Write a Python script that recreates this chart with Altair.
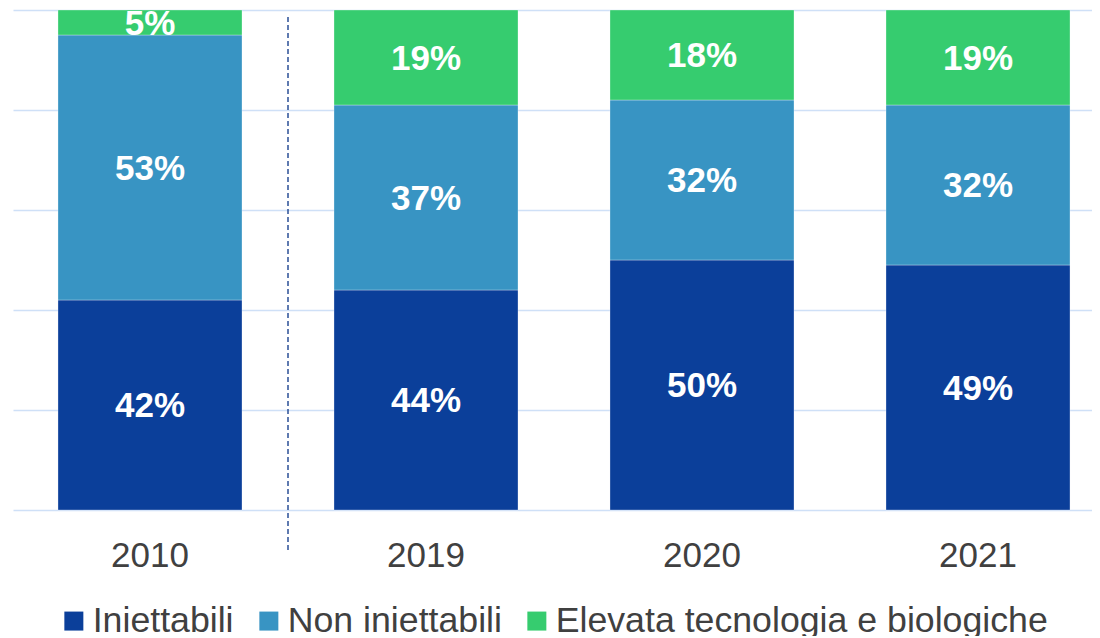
import altair as alt
import pandas as pd

years = ["2010", "2019", "2020", "2021"]
categories = ["Iniettabili", "Non iniettabili", "Elevata tecnologia e biologiche"]
iniettabili = [42, 44, 50, 49]
non_iniettabili = [53, 37, 32, 32]
elevata = [5, 19, 18, 19]
colors = ["#0B3F9A", "#3894C3", "#36CC6F"]

rows = []
for i, y in enumerate(years):
    for k, (cat, vals) in enumerate(zip(categories, [iniettabili, non_iniettabili, elevata])):
        rows.append({"anno": y, "categoria": cat, "valore": vals[i], "ordine": k})
df = pd.DataFrame(rows)

FONT = "Liberation Sans"

xscale = alt.Scale(domain=years, range=[0, 1102], paddingInner=0.3333, paddingOuter=0.163)
yscale = alt.Scale(domain=[0, 100], nice=False)

base = alt.Chart(df)

bars = base.mark_bar(stroke="#FFFFFF", strokeWidth=0.6, strokeOpacity=0.5).encode(
    x=alt.X("anno:N", scale=xscale, sort=years,
            axis=alt.Axis(title=None, labelAngle=0, ticks=False, domain=False,
                          labelFont=FONT, labelFontSize=35, labelColor="#404040",
                          labelPadding=28, grid=False)),
    y=alt.Y("valore:Q", stack="zero", scale=yscale,
            axis=alt.Axis(title=None, labels=False, ticks=False, domain=False,
                          grid=True, gridColor="#CFE0F7", gridWidth=1.5,
                          values=[0, 20, 40, 60, 80, 100])),
    color=alt.Color("categoria:N", scale=alt.Scale(domain=categories, range=colors),
                    legend=alt.Legend(title=None, orient="none", legendX=43, legendY=593,
                                      direction="horizontal", symbolType="square",
                                      symbolSize=361, symbolStrokeWidth=0,
                                      labelFont=FONT, labelFontSize=35.7,
                                      labelColor="#404040", labelOffset=1,
                                      columnPadding=17, padding=0, labelLimit=600)),
    order=alt.Order("ordine:Q"),
)

labels = base.transform_stack(
    stack="valore", groupby=["anno"], as_=["y0", "y1"],
    sort=[alt.SortField("ordine", order="ascending")]
).transform_calculate(
    mid="(datum.y0 + datum.y1) / 2",
    testo="datum.valore + '%'"
).mark_text(font=FONT, fontSize=35, fontWeight="bold", color="#FFFFFF",
            baseline="middle", dy=1).encode(
    x=alt.X("anno:N", scale=xscale, sort=years),
    y=alt.Y("mid:Q", scale=yscale),
    text="testo:N",
)

sep = alt.Chart(pd.DataFrame({"anno": ["2010"]})).mark_rule(
    color="#2A4F96", strokeDash=[5, 3], strokeWidth=1.5, xOffset=46
).encode(
    x=alt.X("anno:N", scale=xscale, sort=years, bandPosition=1),
    y=alt.value(7),
    y2=alt.value(540),
)

chart = alt.layer(bars, labels, sep).properties(
    width=1079, height=500,
    autosize=alt.AutoSizeParams(type="none"),
    padding={"left": 5, "top": 2, "right": 0, "bottom": 126},
).configure_view(stroke=None)

chart.save("out.html", embed_options={"renderer": "svg", "actions": False})
